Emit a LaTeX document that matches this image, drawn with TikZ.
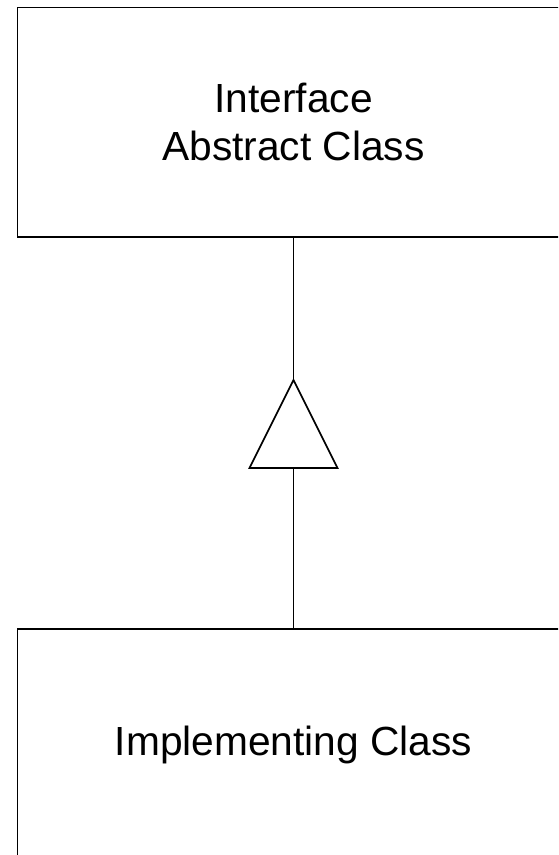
\documentclass[tikz,border=0pt]{standalone}
\usepackage{fontspec}
\setmainfont{Liberation Sans}
\usetikzlibrary{shapes.geometric}
\begin{document}
\begin{tikzpicture}[x=1pt,y=-1pt,
  classbox/.style={draw=black,line width=1.6pt,rectangle,minimum width=552pt,inner sep=0pt,outer sep=0pt,font=\fontsize{40.7}{48}\selectfont,align=center},
  inh/.style={draw=black,line width=1.6pt,isosceles triangle,isosceles triangle stretches,shape border rotate=90,minimum width=88pt,minimum height=88pt,inner sep=0pt,outer sep=0pt},
  link/.style={draw=black,line width=1.6pt}]
\useasboundingbox (0,0) rectangle (558,855);
\clip (0,0) rectangle (558,855);
\fill[white] (0,0) rectangle (558,855);
\node[classbox,minimum height=229.5pt] (top) at (293.5,122.25) {Interface\\Abstract Class};
\node[classbox,minimum height=232pt] (bot) at (293.5,745) {Implementing Class};
\node[inh,anchor=apex] (tri) at (293.5,380) {};
\draw[link] (top.south) -- (tri.apex);
\draw[link] (tri.lower side) -- (bot.north);
\end{tikzpicture}
\end{document}
